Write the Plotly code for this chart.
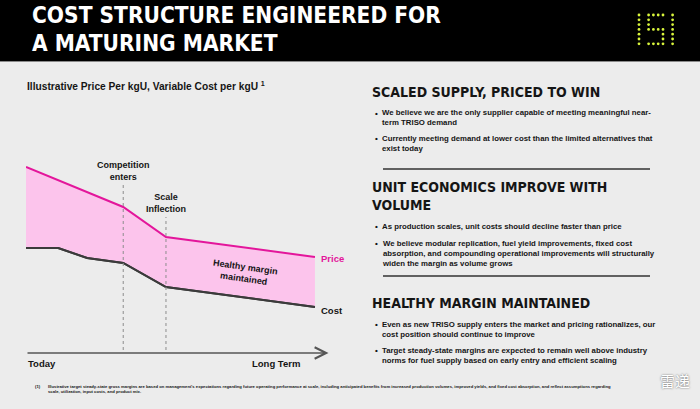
import plotly.graph_objects as go

W, H = 700, 409

# illustrative chart data (index units, time axis 0..100)
price_time = [0, 32.3, 46.5, 96]
price_values = [93, 73, 58, 48]
cost_time = [0, 10.7, 20.3, 32.3, 46.5, 96]
cost_values = [52.5, 52.5, 47.5, 45, 33, 23]
event_time = [32.3, 46.5]
event_top = [84, 68]
event_labels = ["Competition<br>enters", "Scale<br>Inflection"]
axis_labels = ["Today", "Long Term"]

PINK_FILL = "#fcc4ec"
MAGENTA = "#e3169b"
COST_LINE = "#3b3b3b"
BG = "#ececec"
TXT = "#151515"
BODY_FONT = "Liberation Sans, Arial, sans-serif"
HEAD_FONT = "DejaVu Sans Condensed, Roboto Condensed, Liberation Sans Narrow, Roboto, sans-serif"


def px(x):
    return x / W


def py(y):
    return 1 - y / H


fig = go.Figure()

fig.add_trace(go.Scatter(
    x=cost_time, y=cost_values, mode="lines",
    line=dict(color=COST_LINE, width=2), hoverinfo="skip", showlegend=False,
))
fig.add_trace(go.Scatter(
    x=price_time, y=price_values, mode="lines", fill="tonexty", fillcolor=PINK_FILL,
    line=dict(color=MAGENTA, width=2), hoverinfo="skip", showlegend=False,
))
# redraw cost on top of the fill
fig.add_trace(go.Scatter(
    x=cost_time, y=cost_values, mode="lines",
    line=dict(color=COST_LINE, width=2), hoverinfo="skip", showlegend=False,
))

shapes = []
annotations = []

# header band
shapes.append(dict(type="rect", xref="paper", yref="paper", x0=0, x1=1, y0=py(61), y1=1,
                   fillcolor="#000000", line=dict(width=0), layer="below"))
shapes.append(dict(type="line", xref="paper", yref="paper", x0=0, x1=1, y0=py(61.5), y1=py(61.5),
                   line=dict(color="#8a8a8a", width=1)))

# event markers
for t, top, lab in zip(event_time, event_top, event_labels):
    shapes.append(dict(type="line", xref="x", yref="y", x0=t, x1=t, y0=1.5, y1=top,
                       line=dict(color="#8c8c8c", width=1, dash="dot")))
    annotations.append(dict(x=t, y=top, xref="x", yref="y", text=f"<b>{lab}</b>", showarrow=False,
                            yanchor="bottom", yshift=1, align="center",
                            font=dict(family=BODY_FONT, size=9, color=TXT)))

# time axis arrow
annotations.append(dict(x=100.5, y=0, ax=0, ay=0, xref="x", yref="y", axref="x", ayref="y",
                        text="", showarrow=True, arrowhead=5, arrowsize=1.4, arrowwidth=1.6,
                        arrowcolor="#555555"))
annotations.append(dict(x=0, y=0, xref="x", yref="y", text=f"<b>{axis_labels[0]}</b>", showarrow=False,
                        xanchor="left", yanchor="top", yshift=-3,
                        font=dict(family=BODY_FONT, size=9.5, color=TXT)))
annotations.append(dict(x=91.8, y=0, xref="x", yref="y", text=f"<b>{axis_labels[1]}</b>", showarrow=False,
                        xanchor="right", yanchor="top", yshift=-3,
                        font=dict(family=BODY_FONT, size=9.5, color=TXT)))

# series labels
annotations.append(dict(x=price_time[-1], y=price_values[-1], xref="x", yref="y", text="<b>Price</b>",
                        showarrow=False, xanchor="left", xshift=4, yshift=-1,
                        font=dict(family=BODY_FONT, size=9.5, color=MAGENTA)))
annotations.append(dict(x=cost_time[-1], y=cost_values[-1], xref="x", yref="y", text="<b>Cost</b>",
                        showarrow=False, xanchor="left", xshift=4, yshift=-3,
                        font=dict(family=BODY_FONT, size=9.5, color=TXT)))
annotations.append(dict(x=72.5, y=40, xref="x", yref="y", text="<b>Healthy margin<br>maintained</b>",
                        showarrow=False, textangle=8, align="center",
                        font=dict(family=BODY_FONT, size=9, color=TXT)))


def text(x, y, s, size, family=BODY_FONT, color=TXT, xanchor="left", yanchor="middle"):
    annotations.append(dict(x=px(x), y=py(y), xref="paper", yref="paper", text=s, showarrow=False,
                            xanchor=xanchor, yanchor=yanchor, align="left",
                            font=dict(family=family, size=size, color=color)))


# headline
text(30, 15, "<b>COST STRUCTURE ENGINEERED FOR</b>", 22.5, HEAD_FONT, "#ffffff")
text(30, 43, "<b>A MATURING MARKET</b>", 22.5, HEAD_FONT, "#ffffff")

# logo: dot-matrix mark
logo_rows = [
    "X.XXXX.X",
    "X.X....X",
    "X.X....X",
    "X.XXXX.X",
    "X....X.X",
    "X....X.X",
    "X.XXXX.X",
]
for r, row in enumerate(logo_rows):
    for c, ch in enumerate(row):
        if ch == "X":
            cx, cy = 639 + c * 4.8, 15 + r * 4.8
            shapes.append(dict(type="circle", xref="paper", yref="paper",
                               x0=px(cx - 1.4), x1=px(cx + 1.4), y0=py(cy + 1.4), y1=py(cy - 1.4),
                               fillcolor="#d9f53c", line=dict(width=0)))

# chart title
text(25, 86, "<b>Illustrative Price Per kgU, Variable Cost per kgU <sup>1</sup></b>", 10.2)

# right-hand commentary
text(370, 92, "<b>SCALED SUPPLY, PRICED TO WIN</b>", 14, HEAD_FONT)
bullets = [
    (117.5, 113, "We believe we are the only supplier capable of meeting meaningful near-<br>term TRISO demand"),
    (143.5, 138, "Currently meeting demand at lower cost than the limited alternatives that<br>exist today"),
    (227, 227, "As production scales, unit costs should decline faster than price"),
    (253, 243, "We believe modular replication, fuel yield improvements, fixed cost<br>absorption, and compounding operational improvements will structurally<br>widen the margin as volume grows"),
    (329, 324, "Even as new TRISO supply enters the market and pricing rationalizes, our<br>cost position should continue to improve"),
    (355, 350, "Target steady-state margins are expected to remain well above industry<br>norms for fuel supply based on early entry and efficient scaling"),
]
for yc, yb, s in bullets:
    text(373, yb, "<b>•</b>", 8)
    text(380, yc, f"<b>{s}</b>", 7.8)

text(370, 196, "<b>UNIT ECONOMICS IMPROVE WITH<br>VOLUME</b>", 14, HEAD_FONT)
text(370, 303, "<b>HEALTHY MARGIN MAINTAINED</b>", 14, HEAD_FONT)

for yl in (169, 276):
    shapes.append(dict(type="line", xref="paper", yref="paper", x0=px(383), x1=px(650),
                       y0=py(yl), y1=py(yl), line=dict(color="#333333", width=1.5)))

# footnote
text(33, 386, "<b>(1)</b>", 4.2)
text(46, 389, "<b>Illustrative target steady-state gross margins are based on management's expectations regarding "
              "future operating performance at scale, including anticipated benefits from increased production volumes, "
              "improved yields, and fixed cost absorption, and reflect assumptions regarding<br>scale, utilization, "
              "input costs, and product mix.</b>", 4.2)

# watermark
annotations.append(dict(x=px(692), y=py(393), xref="paper", yref="paper", text="雷递", showarrow=False,
                        xanchor="right", font=dict(family="Noto Sans CJK SC", size=15, color="#ffffff",
                                                   shadow="0px 0px 2px #555555")))

fig.update_layout(
    width=W, height=H,
    margin=dict(l=0, r=0, t=0, b=0),
    paper_bgcolor=BG, plot_bgcolor="rgba(0,0,0,0)",
    xaxis=dict(domain=[26 / W, 327 / W], range=[0, 100], visible=False, fixedrange=True),
    yaxis=dict(domain=[py(353), py(153)], range=[0, 100], visible=False, fixedrange=True),
    shapes=shapes,
    annotations=annotations,
    showlegend=False,
)

fig.write_html("out.html", config={"displayModeBar": False},
               post_script="document.body.style.margin='0';document.body.style.overflow='hidden';")
